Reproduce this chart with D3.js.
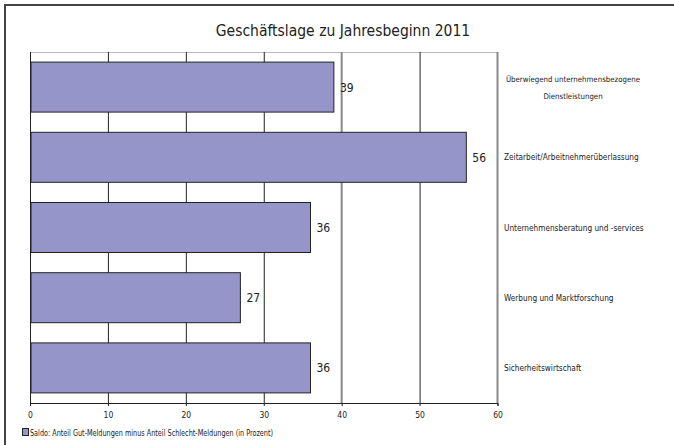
<!DOCTYPE html>
<html><head><meta charset="utf-8">
<script src="https://cdn.jsdelivr.net/npm/d3@7"></script>
<style>
body{margin:0;background:#fff;}
svg{display:block;}
text{font-family:"DejaVu Sans Condensed","Liberation Sans Narrow",sans-serif;}
</style></head>
<body>
<svg id="chart" width="674" height="445"></svg>
<script>
const title = "Geschäftslage zu Jahresbeginn 2011";
const categories = [
  ["Überwiegend unternehmensbezogene", "Dienstleistungen"],
  ["Zeitarbeit/Arbeitnehmerüberlassung"],
  ["Unternehmensberatung und -services"],
  ["Werbung und Marktforschung"],
  ["Sicherheitswirtschaft"]
];
const values = [39, 56, 36, 27, 36];
const ticks = [0, 10, 20, 30, 40, 50, 60];
const legendLabel = "Saldo: Anteil Gut-Meldungen minus Anteil Schlecht-Meldungen (in Prozent)";

const svg = d3.select("#chart");
const W = 674, H = 445;
const plot = {left: 30, right: 497.5, top: 52, bottom: 403};

// outer frame
svg.append("rect").attr("x", 5).attr("y", 5).attr("width", W + 20).attr("height", H + 20)
  .attr("fill", "#fff").attr("stroke", "#444").attr("stroke-width", 2);

svg.append("text").attr("x", 343).attr("y", 36).attr("text-anchor", "middle")
  .attr("font-size", 15.5).attr("fill", "#222").text(title);

const idx = categories.map((c, i) => i);
const x = d3.scaleLinear().domain([0, 60]).range([plot.left, plot.right]);
const y = d3.scaleBand().domain(idx).range([plot.top, plot.bottom]).paddingInner(0.288).paddingOuter(0.144);

// plot top border
svg.append("line").attr("x1", plot.left).attr("x2", plot.right).attr("y1", plot.top + 0.5).attr("y2", plot.top + 0.5)
  .attr("stroke", "#bbb").attr("stroke-width", 1);

// gridlines
svg.append("g").selectAll("line").data(ticks.slice(1)).join("line")
  .attr("x1", d => x(d)).attr("x2", d => x(d))
  .attr("y1", plot.top).attr("y2", plot.bottom)
  .attr("stroke", d => (d === 40 || d === 60) ? "#8a8a8a" : "#222")
  .attr("stroke-width", d => (d === 40 || d === 60) ? 2 : 1)
  .attr("transform", d => (d === 40 || d === 60) ? null : "translate(0.5,0)");

// bars
svg.append("g").selectAll("rect").data(values).join("rect")
  .attr("x", x(0) + 1).attr("y", (d, i) => y(i))
  .attr("width", d => x(d) - x(0) - 1).attr("height", y.bandwidth())
  .attr("fill", "#9595c9").attr("stroke", "#222").attr("stroke-width", 1);

// value labels
svg.append("g").selectAll("text").data(values).join("text")
  .attr("x", d => x(d) + 6).attr("y", (d, i) => y(i) + y.bandwidth() / 2 + 4.5)
  .attr("font-size", 12).attr("fill", "#222").text(d => d);

// x axis
const xAxis = d3.axisBottom(x).tickValues(ticks).tickSize(3).tickFormat(d3.format("d"));
const ax = svg.append("g").attr("transform", `translate(0,${plot.bottom})`).call(xAxis);
ax.select(".domain").attr("stroke", "#222");
ax.selectAll(".tick line").attr("stroke", "#222");
ax.selectAll(".tick text").attr("font-size", 8.5).attr("fill", "#222").attr("dy", "1em")
  .style("font-family", '"DejaVu Sans Condensed",sans-serif');

// y axis line
svg.append("line").attr("x1", plot.left + 0.5).attr("x2", plot.left + 0.5).attr("y1", plot.top).attr("y2", plot.bottom + 3)
  .attr("stroke", "#222");

// category labels
const cl = svg.append("g").selectAll("text").data(categories).join("text")
  .attr("font-size", d => d.length > 1 ? 7.8 : 8.2).attr("fill", "#222")
  .attr("x", (d) => d.length > 1 ? 573 : 504)
  .attr("text-anchor", d => d.length > 1 ? "middle" : "start")
  .attr("y", (d, i) => y(i) + y.bandwidth() / 2 + 3 - (d.length - 1) * 8.5);
cl.selectAll("tspan").data(d => d).join("tspan")
  .attr("x", function() { return this.parentNode.getAttribute("x"); })
  .attr("dy", (d, i) => i === 0 ? 0 : 17).text(d => d);

// legend
svg.append("rect").attr("x", 22.5).attr("y", 428.5).attr("width", 6).attr("height", 7)
  .attr("fill", "#9595c9").attr("stroke", "#222");
svg.append("text").attr("x", 30).attr("y", 436).attr("font-size", 9.5)
  .attr("textLength", 243).attr("lengthAdjust", "spacingAndGlyphs")
  .attr("fill", "#222").text(legendLabel);
</script>
</body></html>
